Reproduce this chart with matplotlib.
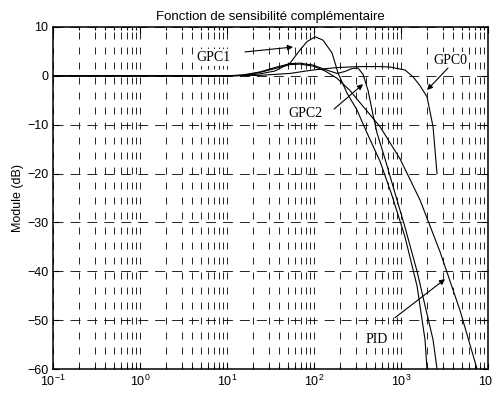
import numpy as np
import matplotlib
matplotlib.use("Agg")
import matplotlib.pyplot as plt

plt.rcParams['font.family'] = ['Liberation Sans', 'DejaVu Sans']
plt.rcParams['lines.scale_dashes'] = False

# frequency points (rad/s) and magnitude (dB)
w_gpc1 = [0.1, 1, 10, 15.3, 23.9, 35.6, 53, 69, 83, 103, 127, 161, 189, 239,
          312, 407, 574, 788, 1112, 1528, 1887, 1990]
db_gpc1 = [0, 0, 0, 0.1, 0.4, 1.0, 2.6, 5.3, 7.0, 8.0, 7.3, 4.7, 0.6, -3.5,
           -7.0, -11.7, -17.5, -24.5, -33, -43, -54, -60]

w_gpc2 = [0.1, 1, 10, 15.3, 23.9, 35.6, 53, 69, 97.5, 134, 184, 227, 274, 321,
          366, 418, 477, 530, 655, 853, 1112, 1528, 1887, 2333, 2594]
db_gpc2 = [0, 0, 0, 0.2, 0.8, 1.7, 2.5, 2.6, 2.2, 1.3, 0.5, 0.9, 1.5, 1.6,
           0.3, -3, -8, -11.7, -17, -24, -31, -40, -47, -54, -60]

w_pid = [0.1, 1, 10, 15.3, 23.9, 35.6, 53, 69, 97.5, 134, 184, 259, 338, 574,
         975, 1652, 2806, 4764, 7480]
db_pid = [0, 0, 0, 0.1, 0.7, 1.5, 2.3, 2.4, 2.0, 1.0, -0.5, -3, -5.5, -10.4,
          -17, -25.4, -36, -48, -60]

w_gpc0 = [0.1, 1, 10, 23.9, 53, 97.5, 184, 338, 574, 748, 1112, 1374, 1652,
          1990, 2333, 2594]
db_gpc0 = [0, 0, 0, 0.1, 0.5, 1.2, 1.7, 1.9, 1.9, 1.8, 1.2, -0.2, -2, -4.3,
           -10.4, -20]

y_ticks = [-60, -50, -40, -30, -20, -10, 0, 10]

fig = plt.figure(figsize=(4.93, 3.97), dpi=100)
ax = fig.add_axes([0.1075, 0.0705, 0.8824, 0.8615])

for w, db in [(w_gpc1, db_gpc1), (w_gpc2, db_gpc2), (w_pid, db_pid), (w_gpc0, db_gpc0)]:
    ax.semilogx(w, db, color='black', lw=0.8, zorder=3)

ax.set_xlim(0.1, 1e4)
ax.set_ylim(-60, 10)
ax.set_yticks(y_ticks)
ax.set_xticks([0.1, 1, 10, 100, 1000, 10000])

# matlab style grid: dashed at decades / 10 dB, and at minor log ticks
ax.grid(True, which='major', axis='y', color='black', lw=0.6, linestyle=(0, (7.2, 5.0)))
ax.grid(True, which='both', axis='x', color='black', lw=0.6, linestyle=(0, (5.0, 5.8)))

ax.tick_params(which='both', direction='in', top=True, right=True, labelsize=9, width=0.8)
ax.tick_params(which='major', length=4)
ax.tick_params(which='minor', length=2.5)
for s in ax.spines.values():
    s.set_linewidth(1.1)

ax.set_title('Fonction de sensibilité complémentaire', fontsize=9.5, pad=5)
ax.set_ylabel('Module (dB)', fontsize=9, labelpad=2)

lbl = dict(fontsize=10, family=['Liberation Serif', 'DejaVu Serif'], ha='center', va='center',
           bbox=dict(facecolor='white', edgecolor='none', pad=1.5), zorder=4)
arr = dict(arrowstyle='-|>', color='black', lw=0.8, mutation_scale=8, shrinkA=0, shrinkB=0)

ax.text(6.9, 3.7, 'GPC1', **lbl)
ax.annotate('', xy=(57.4, 5.9), xytext=(16.1, 4.9), arrowprops=arr, zorder=5)
ax.text(3656, 3.05, 'GPC0', **lbl)
ax.annotate('', xy=(1990, -2.9), xytext=(3467, 1.6), arrowprops=arr, zorder=5)
ax.text(78.8, -7.8, 'GPC2', **lbl)
ax.annotate('', xy=(366, -1.7), xytext=(170, -6.8), arrowprops=arr, zorder=5)
ax.text(530, -54, 'PID', **lbl)
ax.annotate('', xy=(3206, -41.6), xytext=(853, -49.5), arrowprops=arr, zorder=5)

fig.savefig('out.png', dpi=100)
